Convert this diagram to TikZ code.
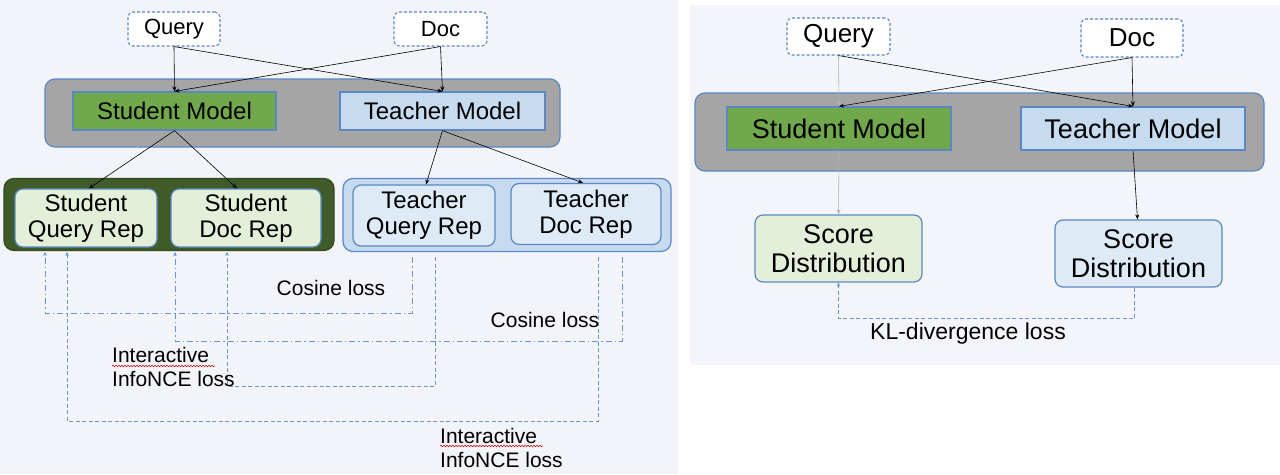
\documentclass[tikz,border=0pt]{standalone}
\usepackage{fontspec}
\setmainfont{Liberation Sans}
\usetikzlibrary{arrows.meta,decorations.pathmorphing}
\definecolor{bdr}{HTML}{5B87C5}
\definecolor{bgl}{HTML}{F2F4F9}
\definecolor{bgr}{HTML}{F3F5FA}
\definecolor{grayc}{HTML}{A5A5A5}
\definecolor{grn}{HTML}{70A84B}
\definecolor{dgrn}{HTML}{3F5B29}
\definecolor{lgrn}{HTML}{E3EFD9}
\definecolor{lblu}{HTML}{C6DBF0}
\definecolor{vlblu}{HTML}{DEEAF6}
\definecolor{lossc}{HTML}{6A95CC}
\definecolor{lgray}{HTML}{B4B4B4}
\begin{document}
\begin{tikzpicture}[x=1pt,y=-1pt,
  inbox/.style={draw=bdr,line width=1.1pt,dash pattern=on 3pt off 2pt,fill=white,rounded corners=5pt,inner sep=0pt},
  container/.style={draw=bdr,line width=1.2pt,rounded corners=10pt,inner sep=0pt},
  modelbox/.style={draw=bdr,line width=1.2pt,inner sep=0pt},
  repbox/.style={draw=bdr,line width=1.2pt,rounded corners=8pt,inner sep=0pt,align=center},
  arr/.style={-{Stealth[length=5pt,width=4pt]},line width=0.6pt},
  garr/.style={arr,draw=lgray},
  dashdot/.style={draw=lossc,line width=1pt,dash pattern=on 6pt off 3pt on 1.5pt off 3pt},
  dashln/.style={draw=lossc,line width=1pt,dash pattern=on 4pt off 2.5pt},
  ltip/.style={-{Stealth[length=4pt,width=3.5pt]}},
  fq/.style={font=\fontsize{22}{24}\selectfont},
  fm/.style={font=\fontsize{24}{26}\selectfont},
  fr/.style={font=\fontsize{24}{26}\selectfont},
  fl/.style={font=\fontsize{21}{23.5}\selectfont},
  fqR/.style={font=\fontsize{26}{28}\selectfont},
  fmR/.style={font=\fontsize{27}{29}\selectfont},
  flR/.style={font=\fontsize{23}{25}\selectfont},
  wavy/.style={draw=red!80!black,line width=0.5pt,decorate,decoration={snake,segment length=3pt,amplitude=0.8pt}}
]
\useasboundingbox (0,0) rectangle (1280,474);
\fill[white] (0,0) rectangle (1280,474);
\fill[bgl] (0,0) rectangle (678,474);
\fill[bgr] (690,5) rectangle (1280,365);

% ---------- Left panel ----------
\node[container,fill=grayc,minimum width=515pt,minimum height=68pt] (mc1) at (302.5,113) {};
\node[modelbox,fill=grn,fm,minimum width=203pt,minimum height=38pt] (sm1) at (174.5,111) {Student Model};
\node[modelbox,fill=lblu,fm,minimum width=205pt,minimum height=38pt] (tm1) at (442.5,111) {Teacher Model};
\node[inbox,fq,minimum width=92pt,minimum height=34pt] (q1) at (174,29) {Query};
\node[inbox,fq,minimum width=93pt,minimum height=34pt] (d1) at (440.5,29) {Doc};

\node[container,draw=dgrn!80!black,fill=dgrn,minimum width=330pt,minimum height=72pt] (sc1) at (169,214.5) {};
\node[repbox,fill=lgrn,fr,minimum width=142pt,minimum height=58pt] (sq) at (86,218) {Student\\Query Rep};
\node[repbox,fill=lgrn,fr,minimum width=150pt,minimum height=58pt] (sd) at (246,218) {Student\\Doc Rep};
\node[container,fill=lblu,minimum width=328pt,minimum height=73pt] (tc1) at (507,215) {};
\node[repbox,fill=vlblu,fr,minimum width=142pt,minimum height=61pt] (tq) at (424,215.5) {Teacher\\Query Rep};
\node[repbox,fill=vlblu,fr,minimum width=150pt,minimum height=61pt] (td) at (586,214) {Teacher\\Doc Rep};

\draw[arr] (q1.south) -- (sm1.north);
\draw[arr] (q1.south) -- (tm1.north);
\draw[arr] (d1.south) -- (sm1.north);
\draw[arr] (d1.south) -- (tm1.north);
\draw[arr] (sm1.south) -- ([xshift=3pt]sq.north);
\draw[arr] (sm1.south) -- ([xshift=-9pt]sd.north);
\draw[arr] (tm1.south) -- ([xshift=2pt]tq.north);
\draw[arr] (tm1.south) -- ([xshift=-3pt]td.north);

% loss connectors
\coordinate (s1) at (45,252);
\coordinate (s2) at (67,252);
\coordinate (s3) at (175,252);
\coordinate (s4) at (227,252);
\coordinate (t1) at (412,257);
\coordinate (t2) at (435,257);
\coordinate (t3) at (598,257);
\coordinate (t4) at (622,257);
\draw[dashdot,ltip] (t1) -- ++(0,56) -| (s1);
\draw[dashdot,ltip] (t4) -- ++(0,84) -| (s3);
\draw[dashln,ltip] (t2) -- ++(0,129) -| (s4);
\draw[dashln,ltip] (t3) -- ++(0,164) -| (s2);

\node[fl,inner sep=0pt] (cl1) at (331,288) {Cosine loss};
\node[fl,inner sep=0pt] (cl2) at (545,320) {Cosine loss};
\node[fl,inner sep=0pt,align=left,anchor=west] (il1) at (112,367) {Interactive\\InfoNCE loss};
\node[fl,inner sep=0pt,align=left,anchor=west] (il2) at (440,448) {Interactive\\InfoNCE loss};
\draw[wavy] (112,366) -- (215,366);
\draw[wavy] (440,446) -- (543,446);

% ---------- Right panel ----------
\node[container,fill=grayc,minimum width=569pt,minimum height=78pt] (mc2) at (979.5,132) {};
\node[modelbox,fill=grn,fmR,minimum width=224pt,minimum height=43pt] (sm2) at (839,128.5) {Student Model};
\node[modelbox,fill=lblu,fmR,minimum width=224pt,minimum height=43pt] (tm2) at (1133,128.5) {Teacher Model};
\node[inbox,fqR,minimum width=103pt,minimum height=37pt] (q2) at (838.5,36.5) {Query};
\node[inbox,fqR,minimum width=102pt,minimum height=38pt] (d2) at (1132,38) {Doc};
\node[repbox,fill=lgrn,fmR,minimum width=167pt,minimum height=67pt] (ss) at (838.5,248.5) {Score\\Distribution};
\node[repbox,fill=vlblu,fmR,minimum width=167pt,minimum height=67pt] (ts) at (1138.5,253.5) {Score\\Distribution};

\draw[garr] (q2.south) -- (sm2.north);
\draw[arr] (q2.south) -- (tm2.north);
\draw[arr] (d2.south) -- (sm2.north);
\draw[arr] (d2.south) -- (tm2.north);
\draw[garr] (sm2.south) -- (ss.north);
\draw[arr] (tm2.south) -- ([xshift=-1pt]ts.north);
\draw[dashln,ltip] ([xshift=-4pt]ts.south) -- ++(0,31) -| (ss.south);
\node[flR,inner sep=0pt] (kl) at (968,334) {KL-divergence loss};
\end{tikzpicture}
\end{document}
